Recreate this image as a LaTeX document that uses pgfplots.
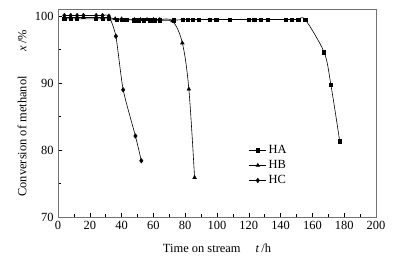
\documentclass[border=0pt]{standalone}
\usepackage{pgfplots}
\pgfplotsset{compat=1.18}
\usepackage{fontspec}
\setmainfont{Liberation Serif}
\begin{document}
\fontsize{12.5}{14}\selectfont
\begin{tikzpicture}
\useasboundingbox (-58bp,-42bp) rectangle (340bp,217bp);
\begin{axis}[
  at={(0,0)}, anchor=south west,
  scale only axis, width=318bp, height=207.5bp,
  xmin=0, xmax=200, ymin=70, ymax=101,
  xtick={0,20,...,200}, ytick={70,80,90,100},
  minor x tick num=1, minor y tick num=1,
  xtick pos=bottom, ytick pos=left, tick align=inside,
  major tick length=4bp, minor tick length=2.5bp,
  tick style={black, line width=0.5pt},
  axis line style={black!55, line width=0.6pt},
  /pgf/number format/assume math mode=true,
  xlabel={Time on stream\hspace{1.2em}\textit{t}\,/h},
  ylabel={Conversion of methanol\hspace{2em}\textit{x}\,/\%},
  xlabel style={yshift=-6bp},
  legend style={draw=none, fill=none, at={(0.60,0.356)}, anchor=north west,
    row sep=1bp, inner sep=0pt, font=\fontsize{12.5}{14}\selectfont},
  legend cell align=left,
]
\addplot[black, line width=0.6pt, smooth, tension=0.5, mark=square*, mark size=1.6bp, mark options={fill=black, solid}] coordinates {
(4,99.6)(8,99.6)(12,99.6)(24,99.6)(28,99.6)(32,99.6)(37,99.5)(40,99.5)(43,99.5)
(48,99.4)(51,99.4)(54,99.4)(58,99.4)(61,99.4)(64,99.4)(73,99.4)(78.6,99.5)(81.7,99.5)
(84.8,99.5)(88.6,99.5)(95.3,99.5)(99.5,99.5)(107.8,99.5)(120,99.5)(123.5,99.5)
(127.7,99.5)(131.8,99.5)(143.4,99.5)(147.1,99.5)(151.1,99.5)(155.5,99.5)
(167.4,94.6)(171.6,89.8)(177.2,81.3)};
\addlegendentry{HA}
\addplot[black, line width=0.6pt, smooth, tension=0.55, mark=triangle*, mark size=2bp, mark options={fill=black, solid}] coordinates {
(4,99.8)(8,99.8)(12,99.8)(16,99.8)(24,99.8)(28,99.8)(32,99.8)(36,99.6)(40,99.6)
(48,99.5)(52,99.5)(56,99.5)(60,99.5)(64,99.5)(72,99.3)(78.2,96.0)(82.3,89.1)(85.9,75.9)};
\addlegendentry{HB}
\addplot[black, line width=0.6pt, smooth, tension=0.4, mark=diamond*, mark size=2.2bp, mark options={fill=black, solid}] coordinates {
(4,100.1)(8,100.1)(12,100.1)(16,100.1)(24,100.1)(28,100.1)(32,100.0)
(36.4,97.0)(41,89.0)(48.7,82.1)(52.4,78.4)};
\addlegendentry{HC}
\end{axis}
\end{tikzpicture}
\end{document}
